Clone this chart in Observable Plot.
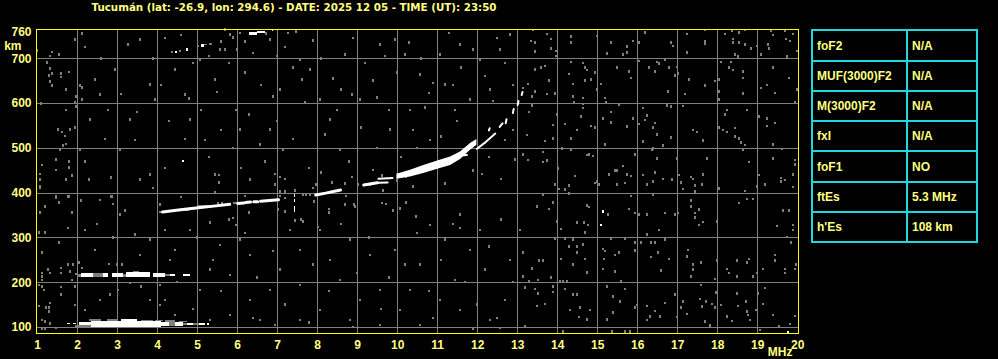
<!DOCTYPE html>
<html>
<head>
<meta charset="utf-8">
<script src="https://cdn.jsdelivr.net/npm/d3@7"></script>
<script src="https://cdn.jsdelivr.net/npm/@observablehq/plot@0.6"></script>
<style>
html,body{margin:0;padding:0;background:#000;}
#wrap{position:relative;width:998px;height:359px;overflow:hidden;background:#000;}
#chart svg{display:block;}
#params{position:absolute;left:811px;top:29px;display:grid;grid-template-columns:93px 68px;grid-template-rows:29px 28px 28px 28px 29px 28px 28px;gap:2px;padding:2px;background:#1ED8E0;}
#params div{background:#000;color:#FFFF80;font:bold 12px "Liberation Sans",Arial,sans-serif;display:flex;align-items:center;padding-left:4px;white-space:nowrap;}
</style>
</head>
<body>
<div id="wrap"><div id="chart"></div><div id="params"></div></div>
<script>
// ---- texts ----
const title = "Tucumán (lat: -26.9, lon: 294.6) - DATE: 2025 12 05 - TIME (UT): 23:50";
const xTicks = [1,2,3,4,5,6,7,8,9,10,11,12,13,14,15,16,17,18,19,20];
const yTicks = [100,200,300,400,500,600,700,760];
const gridF = [2,3,4,5,6,7,8,9,10,11,12,13,14,15,16,17,18,19];
const gridH = [100,200,300,400,500,600,700];
const paramNames = ["foF2","MUF(3000)F2","M(3000)F2","fxI","foF1","ftEs","h'Es"];
const paramValues = ["N/A","N/A","N/A","N/A","NO","5.3 MHz","108 km"];

// ---- echoes: [f1 MHz, f2 MHz, h1 km, h2 km] ----
const echoWhite = [
  // Es (first hop)
  [1.75,1.82,106,109],[1.9,1.97,106,109],[2.05,2.35,104,110],[2.35,3.1,100,114],[3.1,3.5,100,118],
  [3.5,4.1,101,114],[4.1,4.3,102,112],[4.45,4.65,102,111],[4.75,4.9,104,108],[5.05,5.2,104,108],[5.25,5.3,105,108],
  // Es (second hop)
  [2.1,2.4,211,221],[2.65,2.78,211,221],[2.86,3.15,211,220],[3.22,3.82,211,222],[3.9,4.2,212,221],
  [4.32,4.44,213,219],[4.65,4.82,213,218],
  // vertical streak
  [7.41,7.45,390,396],[7.41,7.45,378,386],[7.41,7.45,357,370],
  // upper trace
  [4.45,4.5,712,716],[4.72,4.77,716,723],[5.1,5.17,726,733],[6.3,6.5,752,759],[6.5,6.7,757,762],[6.86,6.9,762,765]
];
const echoGray = [
  [1.95,2.35,100,104],[2.3,2.6,113,117],[2.75,3.0,114,118],[3.6,3.9,113,116],[4.3,4.45,102,111],[4.65,4.75,104,109],
  [4.9,5.05,104,108],[3.95,4.15,113,116],[4.2,4.45,111,115],[4.55,4.75,110,113],
  [2.0,2.1,212,218],[2.4,2.65,212,220],[3.15,3.22,212,219],[3.4,3.55,219,224],[4.2,4.32,213,219],
  [4.35,4.4,712,715],[5.0,5.05,725,729],[5.18,5.25,729,732],[5.3,5.37,729,735],[4.05,4.15,355,360],
  [4.5,4.8,358,362],[5.0,5.3,369,373],[5.9,6.0,374,378]
];
// F trace, thick band: frequency, lower and upper virtual height
const bandF  = [9.98,10.32,10.65,10.98,11.32,11.57,11.82,11.98];
const bandLo = [431,436,444,453,462,475,496,507];
const bandHi = [442,451,462,471,481,492,511,520];
// F trace pieces (thick)
const fThick = [
  [[4.12,358],[4.57,363],[5.07,368],[5.4,371],[5.8,375]],
  [[6.0,377],[6.15,378]],
  [[6.2,379],[6.32,380]],
  [[6.4,381],[6.5,381]],
  [[6.57,382],[7.02,385]],
  [[7.95,396],[8.2,400],[8.57,407]],
  [[9.15,418],[9.49,423]]
];
// F trace pieces (thin)
const fThin = [
  [[9.52,432],[9.87,434]],
  [[9.52,423],[9.75,424]],
  [[11.98,499],[12.2,514],[12.44,533]],
  [[11.57,484],[11.73,485]],
  [[12.28,540],[12.3,545]],
  [[12.55,548],[12.62,556]],
  [[12.7,556],[12.72,565]],
  [[12.88,579],[12.9,588]],
  [[13.0,597],[13.02,606]],
  [[13.1,619],[13.12,626]]
];
const whiteSpots = [[15.14,358],[15.1,328],[19.78,89],[4.65,471]];
// background noise pixels [f MHz, h km]
const noise = [
[13.39,763],[13.74,754],[13.85,743],[13.35,739],[13.45,735],[13.44,715],[13.85,722],[13.97,716],[13.97,705],[14.34,749],[14.34,735],[14.99,750],[15.34,735],[15.25,711],[15.74,726],[15.74,713],[15.89,739],[16.04,735],[15.64,709],[16.2,758],[16.85,735],[16.9,728],[17.24,754],[17.24,713],[17.7,763],[17.7,739],[17.7,733],[18.2,754],[18.36,762],[18.55,758],[18.7,763],[18.39,743],[18.39,735],[18.55,735],[18.7,731],[18.85,722],[19.0,728],[18.45,709],[18.51,704],[19.09,709],[19.35,762],[19.4,752],[19.26,731],[19.3,722],[19.7,762],[19.71,743],[19.82,739],[19.9,754],[19.99,716],[19.74,704],
[13.45,675],[13.6,679],[13.7,683],[13.79,650],[13.28,643],[13.15,634],[13.45,626],[13.74,620],[13.95,621],[13.38,615],[14.34,692],[14.3,665],[14.39,643],[14.4,615],[14.43,602],[14.64,690],[14.7,679],[14.74,674],[14.95,668],[14.85,653],[14.7,650],[14.64,611],[15.0,630],[15.09,643],[15.2,611],[15.21,602],[15.49,679],[15.8,671],[15.85,656],[16.05,694],[16.3,679],[16.44,671],[16.5,692],[16.55,689],[16.7,696],[16.8,679],[16.94,662],[16.99,681],[17.02,666],[17.3,653],[16.78,626],[17.19,620],[17.7,639],[17.95,649],[18.05,653],[18.05,626],[18.05,608],[18.1,692],[18.34,692],[18.3,680],[18.4,674],[18.64,671],[18.64,656],[18.64,621],[19.1,634],[19.25,640],[19.39,679],[19.45,623],[19.79,656],[19.95,602],[19.99,630],
[13.38,595],[13.3,580],[13.89,551],[13.24,529],[13.7,515],[13.89,521],[13.99,575],[14.2,553],[14.49,540],[14.59,570],[14.84,549],[14.95,546],[14.34,521],[14.65,598],[14.64,589],[15.15,566],[15.34,580],[15.34,557],[15.55,596],[15.74,548],[15.89,566],[15.2,508],[16.14,589],[16.24,572],[16.2,562],[16.05,553],[16.44,555],[16.4,546],[16.49,530],[16.14,514],[16.65,505],[16.84,523],[16.74,595],[16.85,592],[17.14,593],[17.39,540],[17.49,535],[17.65,517],[18.24,585],[18.2,575],[18.74,585],[18.05,545],[18.15,540],[18.25,535],[18.45,544],[18.45,525],[18.55,521],[18.59,512],[18.7,506],[19.05,570],[19.24,566],[19.25,549],[19.45,555],[19.4,508],
[13.15,485],[13.64,491],[13.28,473],[13.64,468],[13.74,472],[14.03,454],[14.11,499],[14.34,495],[14.74,484],[14.8,485],[14.89,482],[14.45,437],[14.99,425],[15.3,441],[15.45,450],[15.5,450],[15.64,459],[15.74,441],[15.84,437],[15.95,485],[16.15,439],[16.36,495],[16.4,499],[16.45,445],[16.5,476],[16.65,431],[16.86,429],[16.99,476],[17.05,439],[17.34,435],[17.4,431],[17.64,440],[17.74,476],[18.64,495],[18.79,468],[19.05,439],[19.39,476],[19.6,433],[19.7,428],[19.61,497],[19.9,440],[19.95,473],[19.95,463],
[13.95,418],[14.05,408],[14.2,407],[14.3,416],[14.3,398],[14.95,422],[15.05,418],[15.5,418],[15.7,422],[16.24,418],[16.4,425],[17.1,423],[17.15,408],[17.45,416],[17.45,403],[17.63,418],[18.05,409],[18.7,404],[18.99,414],[19.2,418],[19.6,425],[19.89,413],[13.64,395],[13.49,369],[13.8,364],[13.89,378],[13.99,336],[14.09,319],[14.5,333],[14.68,333],[14.78,328],[14.7,311],[14.74,371],[14.8,368],[15.28,351],[15.84,392],[15.8,364],[15.95,354],[16.05,351],[16.24,351],[16.39,395],[16.7,354],[16.95,351],[17.03,354],[16.54,317],[16.24,306],[17.35,383],[17.35,369],[17.45,354],[17.45,345],[17.55,362],[17.55,328],[17.64,334],[17.99,336],[18.55,377],[18.74,386],[18.89,386],[19.65,360],[19.8,360],[19.89,328],[19.89,316],[19.49,325],[19.74,301],[19.84,289],
[13.15,266],[13.55,248],[13.64,248],[13.36,231],[13.95,296],[14.2,296],[14.3,280],[14.39,295],[14.5,280],[14.65,284],[14.5,266],[14.7,252],[14.4,239],[14.09,252],[14.74,222],[15.14,274],[15.2,270],[15.17,252],[15.14,230],[15.34,296],[15.45,261],[15.55,266],[15.45,224],[15.7,296],[15.95,289],[15.95,271],[16.09,289],[16.34,289],[16.45,289],[16.53,266],[16.34,256],[16.59,226],[16.7,295],[16.8,252],[17.28,272],[17.24,257],[17.4,239],[17.39,228],[17.34,213],[17.6,244],[17.95,207],[17.99,248],[18.24,230],[18.3,220],[18.49,248],[18.74,244],[18.8,252],[18.49,213],[18.89,213],[18.99,220],[19.14,230],[19.45,261],[19.45,248],[19.7,230],[19.7,220],[19.97,239],[19.95,230],[13.14,213],[13.3,203],[13.53,205],[13.84,211],[14.07,203],[14.14,203],[14.24,201],[15.6,201],
[13.2,188],[13.45,185],[13.53,175],[13.7,151],[13.49,147],[13.9,190],[13.9,178],[14.2,185],[14.4,172],[14.5,172],[14.32,138],[14.57,143],[14.82,138],[14.55,122],[14.74,117],[15.24,190],[15.39,168],[15.7,185],[15.57,157],[15.39,132],[15.25,117],[15.95,144],[15.99,149],[16.24,147],[16.45,136],[16.32,123],[16.57,123],[16.7,154],[16.24,116],[16.94,172],[16.99,122],[17.14,157],[17.1,144],[17.24,129],[17.6,194],[17.57,162],[17.61,146],[17.72,157],[17.88,151],[17.95,143],[17.96,177],[18.09,149],[17.7,112],[17.82,103],[18.24,123],[18.36,113],[18.53,147],[18.49,175],[18.71,157],[18.74,134],[18.78,127],[18.82,116],[18.97,138],[19.03,175],[19.2,187],[19.15,151],[19.4,127],[19.55,101],[19.82,107],[19.95,125],[19.07,93],[15.36,90],[15.7,90],[15.82,90],[14.14,90],[13.2,101],
[2.13,755],[1.0,718],[1.38,714],[1.31,705],[1.54,709],[1.32,677],[1.29,662],[1.38,666],[1.59,666],[1.59,658],[1.79,670],[1.33,648],[1.38,639],[1.73,630],[2.08,639],[2.13,635],[1.98,615],[1.94,602],[1.98,592],[2.13,608],[1.1,599],[1.73,585],[1.94,545],[1.63,535],[1.69,527],[1.65,505],[1.73,509],[1.79,469],[1.79,456],[1.88,438],[1.48,451],[1.08,442],[1.08,429],[1.08,411],[2.29,429],[2.84,434],[2.84,391],[1.48,391],[1.79,391],
[1.08,414],[1.48,389],[1.54,378],[1.19,369],[1.08,356],[1.88,356],[2.09,382],[1.78,391],[2.86,391],[2.9,375],[2.19,317],[1.05,311],[1.19,311],[1.54,289],[2.04,244],[1.9,239],[1.78,239],[1.59,232],[1.59,221],[1.33,221],[1.13,220],[1.13,213],[1.13,205],[1.83,224],[1.88,205],[1.98,218],[2.11,232],[2.8,241],[2.99,239],[1.05,194],[1.13,190],[1.59,189],[1.59,172],[1.94,190],[1.05,147],[1.33,153],[1.29,143],[1.23,143],[1.29,134],[1.13,116],[1.19,112],[1.33,108],[1.13,96],[1.19,96],[1.48,98],
[5.54,439],[5.54,423],[6.94,442],[6.94,418],[7.08,435],[7.07,403],[7.19,403],[7.19,388],[7.08,392],[7.03,362],[7.19,358],[7.44,405],[7.65,395],[7.73,395],[7.82,395],[7.92,380],[7.9,410],[7.98,418],[8.03,323],[7.65,336],[7.44,338],[8.38,423],[8.3,363],[8.3,356],[8.69,373],[8.73,392],[8.88,435],[8.92,373],[8.94,369],[9.02,418],[9.32,418],[9.63,438],[9.65,405],[9.63,377],[9.73,375],[10.08,365],[10.23,378],[10.4,414],[10.48,347],[10.23,436],[10.0,427],[12.13,442],[11.58,321],[5.9,343],[5.98,328],[6.19,392],[6.3,356],[5.33,333],[5.44,400],[5.52,377],[5.61,377],
[4.36,714],[4.58,716],[5.58,720],[5.6,738],[5.7,764],[5.82,753],[5.9,747],[6.0,720],[6.07,757],[6.19,738],[6.73,755],[7.0,705],[7.28,757],[7.48,760],
[1.24,691],[1.52,541],[1.57,496],[1.47,474],[1.82,541],[1.12,462],[1.72,429],[1.77,321],[1.12,266],[1.27,228],[1.17,183],[1.94,149],[2.19,138],[2.57,160],[2.82,172],[3.02,183],[3.12,239],[3.57,261],[3.82,295],[3.44,306],[3.32,198],[3.82,160],[4.07,149],[4.07,194],[4.32,250],[3.57,429],[3.82,440],[3.07,496],[3.32,563],[2.77,585],[2.44,653],[2.57,619],[2.94,675],[3.27,731],[3.57,742],[3.82,641],[3.94,608],[3.44,518],
[5.97,585],[6.07,541],[6.57,507],[6.82,541],[7.14,496],[7.57,697],[7.62,653],[7.82,675],[8.07,608],[8.69,708],[8.87,619],[9.07,608],[9.39,451],[9.57,731],[9.94,742],[10.19,708],[10.57,664],[11.07,708],[11.19,641],[11.44,585],[11.82,608],[12.07,697],[12.57,720],[12.69,518],[12.94,474],
[6.07,295],[6.32,261],[7.07,228],[7.57,194],[8.32,250],[9.07,160],[9.57,183],[10.07,138],[10.57,239],[11.07,160],[11.44,205],[11.82,272],[12.32,116],[12.69,160],[12.82,250],[13.07,317],[12.07,317],[11.57,351],[10.82,328],[9.94,272],[8.82,295],[8.07,317],[7.57,272],[6.82,183],[6.32,160],[5.82,127],[5.32,228],[5.07,183],[4.82,317],[5.57,283],[4.44,272],[4.19,160],[4.44,127],[5.32,116],[6.57,116],[7.57,116],[8.82,116],[9.57,104],[10.57,104],[11.57,138],[12.57,98],
[5.07,697],[5.44,653],[5.69,720],[6.82,742],[7.07,630],[8.32,563],[8.57,496],[9.82,541],[10.32,585],[10.82,518],[11.57,731],[12.32,630],[12.82,753],[6.32,429],[5.44,440],[7.32,317],[8.57,205],[9.32,261],[10.32,183],[11.19,295],[12.19,228],[5.82,216],[8.07,138],[6.94,104],[4.07,373],[2.57,384],[2.07,496],[2.32,563],[1.94,742],[4.82,563],[4.44,675],[4.69,619],[5.19,518],[3.07,351],[2.44,272],[4.19,317],
[4.2,745],[4.6,752],[4.9,690],[5.3,705],[5.8,690],[6.2,668],[6.4,712],[6.6,640],[7.2,725],[7.4,680],[7.9,740],[8.1,700],[8.4,655],[8.9,745],[9.2,690],[9.4,650],[9.7,705],[10.0,668],[10.3,735],[10.6,700],[10.9,645],[11.3,757],[11.6,680],[11.9,720],[12.2,660],[12.5,745],[12.7,690],[12.9,640],[4.8,610],[5.5,625],[6.9,615],[7.7,602],[8.6,630],[9.5,612],[10.8,622],[11.4,640],[12.4,605],
[4.3,560],[4.7,520],[5.1,585],[5.6,540],[5.9,500],[6.3,575],[6.7,470],[7.0,560],[7.4,520],[7.8,455],[8.2,530],[8.5,585],[8.8,470],[9.1,545],[9.5,500],[9.8,585],[10.1,480],[10.4,540],[10.7,590],[11.1,525],[11.5,560],[11.9,450],[12.3,480],[12.6,430],[12.9,540],[4.2,455],[5.3,480],[6.1,455],[7.2,430],[8.1,445],[8.7,420],[10.5,500],[11.2,420],
[4.6,390],[5.0,300],[5.4,250],[5.8,340],[6.2,310],[6.5,210],[6.9,270],[7.2,150],[7.6,340],[7.9,240],[8.3,180],[8.6,330],[9.0,220],[9.3,300],[9.6,140],[9.9,360],[10.2,240],[10.5,310],[10.8,180],[11.1,250],[11.4,330],[11.7,200],[12.0,150],[12.3,280],[12.6,340],[12.9,200],[4.9,140],[5.6,180],[6.4,120],[7.8,110],[8.9,100],[9.8,210],[10.9,120],[11.9,95],[12.5,120],[4.5,200],[3.6,190],[2.9,300],[2.5,330],[3.2,360],[3.9,410],[2.2,470],[2.7,520],[3.5,580],[3.1,620],[2.6,700],[2.2,725],[3.9,700],[4.1,640]
];

// ---- tables for Plot ----
const band = bandF.map((f, i) => ({f, lo: bandLo[i], hi: bandHi[i]}));
const toPts = segs => segs.flatMap((s, k) => s.map(([f, h]) => ({f, h, seg: k})));
const thickPts = toPts(fThick);
const thinPts = toPts(fThin);

const GRAY = "#808080", WHITE = "#ffffff", TXT = "#FFFF80";
const pixel = (data, fill) => Plot.rect(data, {
  x1: d => d[0], x2: d => d[0], y1: d => d[1], y2: d => d[1],
  insetLeft: -1, insetRight: -1, insetTop: -1.25, insetBottom: -1.25,
  fill, shapeRendering: "crispEdges"
});
const box = (data, fill) => Plot.rect(data, {
  x1: d => d[0], x2: d => d[1], y1: d => d[2], y2: d => d[3], fill, shapeRendering: "crispEdges"
});

const chart = Plot.plot({
  width: 998, height: 359,
  marginTop: 29, marginLeft: 36, marginRight: 200, marginBottom: 26,
  style: {background: "#000", color: TXT, fontFamily: '"Liberation Sans", Arial, sans-serif', fontSize: "12px", fontWeight: "bold"},
  x: {domain: [0.97, 20.02], ticks: xTicks, tickSize: 0, tickPadding: 7, label: null},
  y: {domain: [86.5, 765.5], ticks: yTicks, tickSize: 0, tickPadding: 5, label: null},
  marks: [
    Plot.ruleX(gridF, {stroke: GRAY, shapeRendering: "crispEdges"}),
    Plot.ruleY(gridH, {stroke: GRAY, shapeRendering: "crispEdges"}),
    pixel(noise, GRAY),
    box(echoGray, GRAY),
    box(echoWhite, WHITE),
    Plot.areaY(band, {x: "f", y1: "lo", y2: "hi", fill: WHITE}),
    Plot.line(thickPts, {x: "f", y: "h", z: "seg", stroke: WHITE, strokeWidth: 3}),
    Plot.line(thinPts, {x: "f", y: "h", z: "seg", stroke: WHITE, strokeWidth: 2}),
    pixel(whiteSpots, WHITE),
    Plot.frame({stroke: "#FFFF00"}),
    Plot.text([title], {text: d => d, frameAnchor: "top-left", dx: 55, dy: -19, textAnchor: "start", lineAnchor: "bottom",
      fill: TXT, fontFamily: '"DejaVu Sans", sans-serif', fontSize: 10.3, fontWeight: "bold"}),
    Plot.text(["km"], {text: d => d, frameAnchor: "top-left", dx: -15, dy: 20, textAnchor: "end", lineAnchor: "bottom", fill: TXT}),
    Plot.text(["MHz"], {text: d => d, frameAnchor: "bottom-right", dx: -6, dy: 22, textAnchor: "end", lineAnchor: "bottom", fill: TXT})
  ]
});
document.getElementById("chart").appendChild(chart);

const params = document.getElementById("params");
paramNames.forEach((n, i) => {
  const a = document.createElement("div"); a.textContent = n; params.appendChild(a);
  const b = document.createElement("div"); b.textContent = paramValues[i]; params.appendChild(b);
});
</script>
</body>
</html>
